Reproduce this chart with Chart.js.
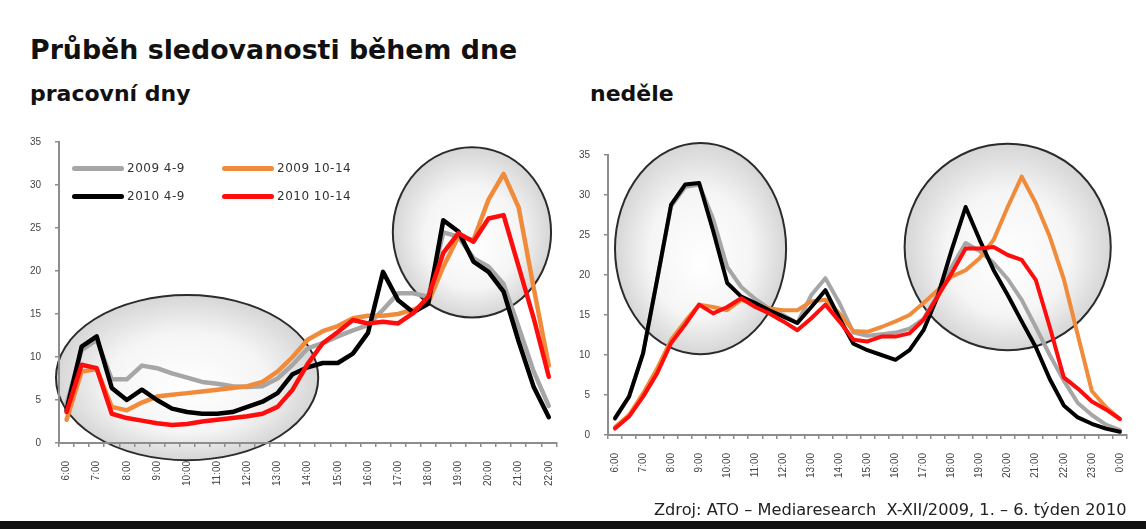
<!DOCTYPE html>
<html>
<head>
<meta charset="utf-8">
<script src="https://cdn.jsdelivr.net/npm/chart.js@4.4.0/dist/chart.umd.min.js"></script>
<style>
body { margin: 0; width: 1146px; height: 529px; overflow: hidden; background: #fff; position: relative; font-family: "DejaVu Sans", sans-serif; color: #111; }
.title { position: absolute; left: 30px; top: 34px; font-weight: bold; font-size: 26.8px; line-height: 32px; white-space: nowrap; }
.sub { position: absolute; top: 80px; font-weight: bold; font-size: 22px; line-height: 28px; white-space: nowrap; }
.source { position: absolute; left: 654px; top: 500px; font-size: 16.2px; line-height: 20px; white-space: pre; color: #222; }
.band { position: absolute; left: 0; top: 521px; width: 1146px; height: 8px; background: #111; }
#leftWrap { position: absolute; left: 0; top: 120px; width: 558px; height: 400px; overflow: hidden; }
#rightChart { position: absolute; left: 570px; top: 130px; }
#legend { position: absolute; left: 72px; top: 158px; display: grid; grid-template-columns: 150px 150px; row-gap: 8px; }
.legendItem { display: flex; align-items: center; height: 20px; font-size: 12px; letter-spacing: 0.5px; color: #333; }
.legendLine { width: 52px; height: 5px; border-radius: 3px; margin-right: 3px; }
</style>
</head>
<body>
<div class="title">Průběh sledovanosti během dne</div>
<div class="sub" style="left:30px">pracovní dny</div>
<div class="sub" style="left:590px">neděle</div>

<div id="leftWrap"><canvas id="leftChart" width="575" height="400"></canvas></div>
<canvas id="rightChart" width="576" height="390"></canvas>
<div id="legend"></div>

<div class="source">Zdroj: ATO – Mediaresearch  X-XII/2009, 1. – 6. týden 2010</div>
<div class="band"></div>

<script>
// categories (half-hour steps)
const weekdayTimes = ['6:00','6:30','7:00','7:30','8:00','8:30','9:00','9:30','10:00','10:30','11:00','11:30',
  '12:00','12:30','13:00','13:30','14:00','14:30','15:00','15:30','16:00','16:30','17:00','17:30',
  '18:00','18:30','19:00','19:30','20:00','20:30','21:00','21:30','22:00'];
const sundayTimes = ['6:00','6:30','7:00','7:30','8:00','8:30','9:00','9:30','10:00','10:30','11:00','11:30',
  '12:00','12:30','13:00','13:30','14:00','14:30','15:00','15:30','16:00','16:30','17:00','17:30',
  '18:00','18:30','19:00','19:30','20:00','20:30','21:00','21:30','22:00','22:30','23:00','23:30','0:00'];

const seriesNames = ['2009 4-9', '2009 10-14', '2010 4-9', '2010 10-14'];
const seriesColors = ['#a6a6a6', '#f08b3b', '#000000', '#ff0d0d'];

// pracovní dny
const wd2009a = [4.5, 10.8, 12.0, 7.4, 7.4, 9.0, 8.7, 8.1, 7.6, 7.1, 6.9, 6.6, 6.5, 6.6, 7.5, 9.1, 11.0,
  11.6, 12.4, 13.1, 13.7, 15.5, 17.4, 17.4, 17.0, 24.5, 24.0, 21.5, 20.5, 18.5, 13.5, 8.3, 4.3];
const wd2009b = [2.7, 8.3, 8.6, 4.2, 3.8, 4.7, 5.4, 5.6, 5.8, 6.0, 6.2, 6.4, 6.6, 7.1, 8.3, 10.0, 12.0,
  13.0, 13.6, 14.5, 14.8, 14.8, 15.0, 15.5, 16.3, 20.5, 24.0, 23.6, 28.3, 31.3, 27.4, 18.0, 9.0];
const wd2010a = [3.8, 11.2, 12.4, 6.4, 5.0, 6.2, 5.0, 4.0, 3.6, 3.4, 3.4, 3.6, 4.2, 4.8, 5.8, 8.0, 8.8,
  9.3, 9.3, 10.4, 12.8, 19.9, 16.6, 15.2, 16.2, 25.9, 24.6, 21.1, 19.9, 17.6, 11.8, 6.5, 3.0];
const wd2010b = [3.6, 9.1, 8.7, 3.4, 2.9, 2.6, 2.3, 2.1, 2.2, 2.5, 2.7, 2.9, 3.1, 3.4, 4.2, 6.2, 9.2,
  11.6, 12.9, 14.3, 13.9, 14.1, 13.9, 15.1, 17.0, 22.1, 24.4, 23.4, 26.1, 26.5, 20.5, 14.5, 7.7];

// neděle
const su2009a = [2.0, 4.8, 10.2, 19.4, 28.6, 31.0, 31.3, 27.0, 21.0, 18.5, 17.0, 15.8, 15.0, 14.0, 17.5, 19.6,
  16.5, 12.8, 12.4, 12.6, 12.8, 13.3, 14.5, 17.5, 21.0, 24.0, 23.0, 21.5, 19.5, 16.9, 13.5, 10.0, 6.8, 4.0, 2.5, 1.3, 0.6];
const su2009b = [1.0, 2.5, 5.2, 8.3, 11.9, 14.2, 16.3, 16.0, 15.6, 16.9, 16.3, 15.8, 15.6, 15.6, 16.7, 16.9,
  15.2, 13.0, 12.9, 13.5, 14.2, 15.0, 16.5, 18.1, 19.8, 20.6, 22.1, 24.4, 28.5, 32.3, 29.0, 24.8, 19.5, 12.5, 5.5, 3.5, 2.0];
const su2010a = [2.1, 4.8, 10.2, 19.4, 28.8, 31.3, 31.5, 25.5, 19.0, 17.3, 16.5, 15.6, 14.8, 14.0, 16.0, 18.1,
  14.6, 11.4, 10.6, 10.0, 9.4, 10.6, 13.1, 17.3, 23.1, 28.5, 24.4, 20.6, 17.5, 14.2, 11.0, 7.0, 3.7, 2.2, 1.4, 0.8, 0.4];
const su2010b = [0.8, 2.3, 4.8, 7.7, 11.5, 13.8, 16.3, 15.2, 16.0, 17.1, 16.0, 15.2, 14.2, 13.1, 14.6, 16.3,
  14.2, 11.9, 11.7, 12.3, 12.3, 12.7, 14.4, 17.3, 20.2, 23.3, 23.3, 23.5, 22.5, 21.9, 19.4, 13.5, 7.2, 5.8, 4.2, 3.2, 2.0];

// highlight ellipses, in data units (category index, value)
const weekdayRings = [
  { x: 8.0, y: 7.6, rx: 8.7, ry: 9.6 },
  { x: 26.9, y: 24.5, rx: 5.25, ry: 9.9 }
];
const sundayRings = [
  { x: 6.1, y: 23.3, rx: 6.1, ry: 13.2 },
  { x: 28.0, y: 23.5, rx: 7.35, ry: 12.9 }
];

const ringPlugin = {
  id: 'rings',
  beforeDraw(chart, args, opts) {
    let ctx = chart.ctx;
    let xs = chart.scales.x, ys = chart.scales.y;
    (opts.items || []).forEach(r => {
      let cx = xs.getPixelForValue(r.x);
      let cy = ys.getPixelForValue(r.y);
      let rx = Math.abs(xs.getPixelForValue(r.x + r.rx) - cx);
      let ry = Math.abs(ys.getPixelForValue(r.y + r.ry) - cy);
      ctx.save();
      ctx.translate(cx, cy);
      ctx.scale(1, ry / rx);
      let g = ctx.createRadialGradient(0, rx * 0.15, 0, 0, 0, rx);
      g.addColorStop(0, '#ffffff');
      g.addColorStop(0.6, '#f5f5f5');
      g.addColorStop(1, '#d6d6d6');
      ctx.fillStyle = g;
      ctx.beginPath();
      ctx.arc(0, 0, rx, 0, Math.PI * 2);
      ctx.fill();
      ctx.restore();
      ctx.save();
      ctx.beginPath();
      ctx.ellipse(cx, cy, rx, ry, 0, 0, Math.PI * 2);
      ctx.strokeStyle = '#2b2b2b';
      ctx.lineWidth = 2;
      ctx.stroke();
      ctx.restore();
    });
  }
};

makeChart = (id, labels, series, rings, yWidth, xHeight, padTop, padRight, lineW) => {
  let ctx = document.getElementById(id).getContext('2d');
  let drawOrder = [4, 3, 2, 1];
  return new Chart(ctx, {
    type: 'line',
    data: {
      labels: labels,
      datasets: series.map((d, i) => ({
        label: seriesNames[i],
        data: d,
        borderColor: seriesColors[i],
        borderWidth: lineW,
        order: drawOrder[i],
        pointRadius: 0,
        tension: 0,
        fill: false
      }))
    },
    plugins: [ringPlugin],
    options: {
      responsive: false,
      animation: false,
      layout: { padding: { top: padTop, right: padRight, left: 0, bottom: 0 } },
      elements: { line: { borderCapStyle: 'round', borderJoinStyle: 'round' } },
      plugins: {
        legend: { display: false },
        tooltip: { enabled: false },
        rings: { items: rings }
      },
      scales: {
        x: {
          offset: true,
          grid: { offset: true, drawOnChartArea: false, tickLength: 4, color: '#8d8d8d', lineWidth: 1.5 },
          border: { color: '#8d8d8d', width: 2 },
          ticks: {
            autoSkip: false, maxRotation: 90, minRotation: 90, padding: 14,
            color: '#444', font: { family: 'Liberation Sans', size: 10 },
            callback: (v, i) => i % 2 === 0 ? labels[i] : ''
          },
          afterFit: s => { s.height = xHeight; }
        },
        y: {
          min: 0, max: 35,
          grid: { drawOnChartArea: false, tickLength: 4, color: '#8d8d8d', lineWidth: 1.5 },
          border: { color: '#8d8d8d', width: 2 },
          ticks: { stepSize: 5, padding: 14, color: '#444', font: { family: 'Liberation Sans', size: 10 } },
          afterFit: s => { s.width = yWidth; }
        }
      }
    }
  });
}

makeChart('leftChart', weekdayTimes, [wd2009a, wd2009b, wd2010a, wd2010b], weekdayRings, 59, 77, 22, 13, 4.5);
makeChart('rightChart', sundayTimes, [su2009a, su2009b, su2010a, su2010b], sundayRings, 38, 85, 25, 9, 4);

createLegend = () => {
  let legendDiv = document.getElementById('legend');
  [0, 1, 2, 3].forEach(i => {
    let item = document.createElement('div');
    item.className = 'legendItem';
    let line = document.createElement('span');
    line.className = 'legendLine';
    line.style.background = seriesColors[i];
    let text = document.createElement('span');
    text.innerText = seriesNames[i];
    item.appendChild(line);
    item.appendChild(text);
    legendDiv.appendChild(item);
  });
}

createLegend();
</script>
</body>
</html>
